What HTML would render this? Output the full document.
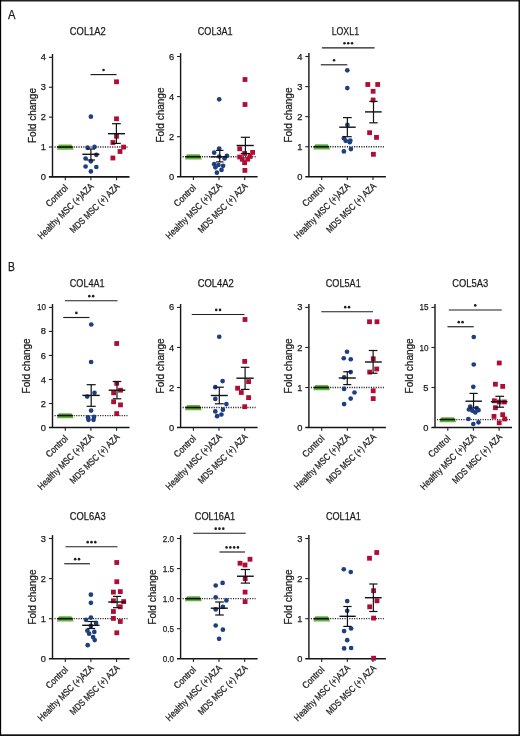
<!DOCTYPE html>
<html><head><meta charset="utf-8"><style>
html,body{margin:0;padding:0;background:#fff;}
body{width:520px;height:736px;overflow:hidden;}
svg{display:block;will-change:transform;}
text{font-family:"Liberation Sans", sans-serif;fill:#1a1a1a;stroke:#1a1a1a;stroke-width:0.25px;}
</style></head><body>
<svg width="520" height="736" viewBox="0 0 520 736">
<rect x="0" y="0" width="520" height="736" fill="#fff"/>
<rect x="0" y="0" width="520" height="1.5" fill="#222"/>
<rect x="0" y="0" width="1.15" height="736" fill="#000"/>
<rect x="518.5" y="0" width="1.5" height="736" fill="#111"/>
<rect x="0" y="734.3" width="520" height="1.7" fill="#111"/>
<text x="8.1" y="19.1" font-size="12.4" textLength="7.5" lengthAdjust="spacingAndGlyphs">A</text>
<text x="8.1" y="271.2" font-size="12.4" textLength="6.9" lengthAdjust="spacingAndGlyphs">B</text>
<text x="87.80" y="34.60" font-size="10.7" text-anchor="middle" textLength="35.86" lengthAdjust="spacingAndGlyphs">COL1A2</text>
<line x1="52.50" y1="53.95" x2="52.50" y2="176.90" stroke="#151515" stroke-width="1.4"/>
<line x1="48.90" y1="176.90" x2="129.50" y2="176.90" stroke="#151515" stroke-width="1.6"/>
<text x="46.00" y="179.95" font-size="9.3" text-anchor="end">0</text>
<line x1="48.90" y1="147.01" x2="52.50" y2="147.01" stroke="#222" stroke-width="1.1"/>
<text x="46.00" y="150.06" font-size="9.3" text-anchor="end">1</text>
<line x1="48.90" y1="117.12" x2="52.50" y2="117.12" stroke="#222" stroke-width="1.1"/>
<text x="46.00" y="120.17" font-size="9.3" text-anchor="end">2</text>
<line x1="48.90" y1="87.24" x2="52.50" y2="87.24" stroke="#222" stroke-width="1.1"/>
<text x="46.00" y="90.29" font-size="9.3" text-anchor="end">3</text>
<line x1="48.90" y1="57.35" x2="52.50" y2="57.35" stroke="#222" stroke-width="1.1"/>
<text x="46.00" y="60.40" font-size="9.3" text-anchor="end">4</text>
<line x1="65.30" y1="176.90" x2="65.30" y2="180.20" stroke="#222" stroke-width="1.1"/>
<line x1="90.90" y1="176.90" x2="90.90" y2="180.20" stroke="#222" stroke-width="1.1"/>
<line x1="116.60" y1="176.90" x2="116.60" y2="180.20" stroke="#222" stroke-width="1.1"/>
<text x="0" y="0" font-size="11" text-anchor="middle" textLength="55" lengthAdjust="spacingAndGlyphs" transform="translate(35.70,115.53) rotate(-90)">Fold change</text>
<text x="0" y="0" font-size="9.4" text-anchor="end" textLength="26.9" lengthAdjust="spacingAndGlyphs" transform="translate(68.54,188.44) rotate(-45)">Control</text>
<text x="0" y="0" font-size="9.4" text-anchor="end" textLength="74.8" lengthAdjust="spacingAndGlyphs" transform="translate(94.30,186.90) rotate(-45)">Healthy MSC (+)AZA</text>
<text x="0" y="0" font-size="9.4" text-anchor="end" textLength="65.9" lengthAdjust="spacingAndGlyphs" transform="translate(120.20,186.95) rotate(-45)">MDS MSC (+) AZA</text>
<line x1="54.50" y1="147.01" x2="127.50" y2="147.01" stroke="#222" stroke-width="1.3" stroke-dasharray="1.1 1.3"/>
<polygon points="58.80,144.61 71.50,144.61 73.70,149.71 56.90,149.71" fill="#63b33c"/>
<line x1="57.40" y1="147.01" x2="72.80" y2="147.01" stroke="#111" stroke-width="1.7"/>
<circle cx="90.90" cy="116.70" r="2.35" fill="#1d3f82"/>
<circle cx="87.60" cy="147.70" r="2.35" fill="#1d3f82"/>
<circle cx="94.50" cy="146.90" r="2.35" fill="#1d3f82"/>
<circle cx="96.30" cy="154.80" r="2.35" fill="#1d3f82"/>
<circle cx="85.60" cy="158.50" r="2.35" fill="#1d3f82"/>
<circle cx="90.90" cy="161.30" r="2.35" fill="#1d3f82"/>
<circle cx="85.60" cy="166.50" r="2.35" fill="#1d3f82"/>
<circle cx="96.30" cy="167.00" r="2.35" fill="#1d3f82"/>
<circle cx="90.90" cy="171.40" r="2.35" fill="#1d3f82"/>
<rect x="114.10" y="79.40" width="4.8" height="4.8" fill="#b00c34"/>
<rect x="114.10" y="116.40" width="4.8" height="4.8" fill="#b00c34"/>
<rect x="114.10" y="133.90" width="4.8" height="4.8" fill="#b00c34"/>
<rect x="110.50" y="140.10" width="4.8" height="4.8" fill="#b00c34"/>
<rect x="121.20" y="144.70" width="4.8" height="4.8" fill="#b00c34"/>
<rect x="117.60" y="149.10" width="4.8" height="4.8" fill="#b00c34"/>
<rect x="110.50" y="155.60" width="4.8" height="4.8" fill="#b00c34"/>
<line x1="90.90" y1="149.00" x2="90.90" y2="160.00" stroke="#111" stroke-width="1.2"/>
<line x1="86.80" y1="149.00" x2="95.00" y2="149.00" stroke="#111" stroke-width="1.2"/>
<line x1="86.80" y1="160.00" x2="95.00" y2="160.00" stroke="#111" stroke-width="1.2"/>
<line x1="82.40" y1="154.30" x2="99.40" y2="154.30" stroke="#111" stroke-width="1.4"/>
<line x1="116.40" y1="123.70" x2="116.40" y2="143.40" stroke="#111" stroke-width="1.2"/>
<line x1="112.00" y1="123.70" x2="120.80" y2="123.70" stroke="#111" stroke-width="1.2"/>
<line x1="112.00" y1="143.40" x2="120.80" y2="143.40" stroke="#111" stroke-width="1.2"/>
<line x1="108.00" y1="133.70" x2="125.00" y2="133.70" stroke="#111" stroke-width="1.4"/>
<line x1="90.50" y1="74.60" x2="116.60" y2="74.60" stroke="#1e1e1e" stroke-width="1.15"/>
<circle cx="103.55" cy="70.00" r="1.3" fill="#1e1e1e"/>
<text x="215.25" y="34.60" font-size="10.7" text-anchor="middle" textLength="34.88" lengthAdjust="spacingAndGlyphs">COL3A1</text>
<line x1="180.60" y1="53.10" x2="180.60" y2="176.80" stroke="#151515" stroke-width="1.4"/>
<line x1="177.00" y1="176.80" x2="257.60" y2="176.80" stroke="#151515" stroke-width="1.6"/>
<text x="174.10" y="179.85" font-size="9.3" text-anchor="end">0</text>
<line x1="177.00" y1="136.70" x2="180.60" y2="136.70" stroke="#222" stroke-width="1.1"/>
<text x="174.10" y="139.75" font-size="9.3" text-anchor="end">2</text>
<line x1="177.00" y1="96.60" x2="180.60" y2="96.60" stroke="#222" stroke-width="1.1"/>
<text x="174.10" y="99.65" font-size="9.3" text-anchor="end">4</text>
<line x1="177.00" y1="56.50" x2="180.60" y2="56.50" stroke="#222" stroke-width="1.1"/>
<text x="174.10" y="59.55" font-size="9.3" text-anchor="end">6</text>
<line x1="193.40" y1="176.80" x2="193.40" y2="180.10" stroke="#222" stroke-width="1.1"/>
<line x1="219.00" y1="176.80" x2="219.00" y2="180.10" stroke="#222" stroke-width="1.1"/>
<line x1="244.70" y1="176.80" x2="244.70" y2="180.10" stroke="#222" stroke-width="1.1"/>
<text x="0" y="0" font-size="11" text-anchor="middle" textLength="55" lengthAdjust="spacingAndGlyphs" transform="translate(163.80,115.05) rotate(-90)">Fold change</text>
<text x="0" y="0" font-size="9.4" text-anchor="end" textLength="26.9" lengthAdjust="spacingAndGlyphs" transform="translate(196.64,188.34) rotate(-45)">Control</text>
<text x="0" y="0" font-size="9.4" text-anchor="end" textLength="74.8" lengthAdjust="spacingAndGlyphs" transform="translate(222.40,186.80) rotate(-45)">Healthy MSC (+)AZA</text>
<text x="0" y="0" font-size="9.4" text-anchor="end" textLength="65.9" lengthAdjust="spacingAndGlyphs" transform="translate(248.30,186.85) rotate(-45)">MDS MSC (+) AZA</text>
<line x1="182.60" y1="156.75" x2="255.60" y2="156.75" stroke="#222" stroke-width="1.3" stroke-dasharray="1.1 1.3"/>
<polygon points="186.90,154.35 199.60,154.35 201.80,159.45 185.00,159.45" fill="#63b33c"/>
<line x1="185.50" y1="156.75" x2="200.90" y2="156.75" stroke="#111" stroke-width="1.7"/>
<circle cx="219.20" cy="99.30" r="2.35" fill="#1d3f82"/>
<circle cx="219.20" cy="148.50" r="2.35" fill="#1d3f82"/>
<circle cx="214.20" cy="152.70" r="2.35" fill="#1d3f82"/>
<circle cx="226.90" cy="155.80" r="2.35" fill="#1d3f82"/>
<circle cx="224.60" cy="158.50" r="2.35" fill="#1d3f82"/>
<circle cx="219.20" cy="156.50" r="2.35" fill="#1d3f82"/>
<circle cx="214.20" cy="164.20" r="2.35" fill="#1d3f82"/>
<circle cx="218.50" cy="165.00" r="2.35" fill="#1d3f82"/>
<circle cx="223.10" cy="165.80" r="2.35" fill="#1d3f82"/>
<circle cx="215.40" cy="167.30" r="2.35" fill="#1d3f82"/>
<circle cx="221.50" cy="169.90" r="2.35" fill="#1d3f82"/>
<circle cx="216.90" cy="172.70" r="2.35" fill="#1d3f82"/>
<rect x="242.60" y="77.10" width="4.8" height="4.8" fill="#b00c34"/>
<rect x="242.60" y="102.10" width="4.8" height="4.8" fill="#b00c34"/>
<rect x="237.30" y="146.40" width="4.8" height="4.8" fill="#b00c34"/>
<rect x="250.20" y="150.00" width="4.8" height="4.8" fill="#b00c34"/>
<rect x="242.20" y="151.10" width="4.8" height="4.8" fill="#b00c34"/>
<rect x="237.30" y="154.60" width="4.8" height="4.8" fill="#b00c34"/>
<rect x="247.60" y="154.10" width="4.8" height="4.8" fill="#b00c34"/>
<rect x="239.90" y="156.80" width="4.8" height="4.8" fill="#b00c34"/>
<rect x="245.30" y="156.80" width="4.8" height="4.8" fill="#b00c34"/>
<rect x="242.20" y="160.30" width="4.8" height="4.8" fill="#b00c34"/>
<rect x="242.50" y="168.00" width="4.8" height="4.8" fill="#b00c34"/>
<line x1="219.75" y1="150.40" x2="219.75" y2="161.90" stroke="#111" stroke-width="1.2"/>
<line x1="216.00" y1="150.40" x2="223.50" y2="150.40" stroke="#111" stroke-width="1.2"/>
<line x1="216.00" y1="161.90" x2="223.50" y2="161.90" stroke="#111" stroke-width="1.2"/>
<line x1="210.50" y1="156.80" x2="227.00" y2="156.80" stroke="#111" stroke-width="1.4"/>
<line x1="245.40" y1="137.30" x2="245.40" y2="153.50" stroke="#111" stroke-width="1.2"/>
<line x1="240.80" y1="137.30" x2="250.00" y2="137.30" stroke="#111" stroke-width="1.2"/>
<line x1="240.80" y1="153.50" x2="250.00" y2="153.50" stroke="#111" stroke-width="1.2"/>
<line x1="236.60" y1="145.50" x2="253.80" y2="145.50" stroke="#111" stroke-width="1.4"/>
<text x="345.33" y="34.60" font-size="10.7" text-anchor="middle" textLength="27.4" lengthAdjust="spacingAndGlyphs">LOXL1</text>
<line x1="308.90" y1="53.10" x2="308.90" y2="176.80" stroke="#151515" stroke-width="1.4"/>
<line x1="305.30" y1="176.80" x2="385.90" y2="176.80" stroke="#151515" stroke-width="1.6"/>
<text x="302.40" y="179.85" font-size="9.3" text-anchor="end">0</text>
<line x1="305.30" y1="146.73" x2="308.90" y2="146.73" stroke="#222" stroke-width="1.1"/>
<text x="302.40" y="149.78" font-size="9.3" text-anchor="end">1</text>
<line x1="305.30" y1="116.65" x2="308.90" y2="116.65" stroke="#222" stroke-width="1.1"/>
<text x="302.40" y="119.70" font-size="9.3" text-anchor="end">2</text>
<line x1="305.30" y1="86.58" x2="308.90" y2="86.58" stroke="#222" stroke-width="1.1"/>
<text x="302.40" y="89.62" font-size="9.3" text-anchor="end">3</text>
<line x1="305.30" y1="56.50" x2="308.90" y2="56.50" stroke="#222" stroke-width="1.1"/>
<text x="302.40" y="59.55" font-size="9.3" text-anchor="end">4</text>
<line x1="321.70" y1="176.80" x2="321.70" y2="180.10" stroke="#222" stroke-width="1.1"/>
<line x1="347.30" y1="176.80" x2="347.30" y2="180.10" stroke="#222" stroke-width="1.1"/>
<line x1="373.00" y1="176.80" x2="373.00" y2="180.10" stroke="#222" stroke-width="1.1"/>
<text x="0" y="0" font-size="11" text-anchor="middle" textLength="55" lengthAdjust="spacingAndGlyphs" transform="translate(292.10,115.05) rotate(-90)">Fold change</text>
<text x="0" y="0" font-size="9.4" text-anchor="end" textLength="26.9" lengthAdjust="spacingAndGlyphs" transform="translate(324.94,188.34) rotate(-45)">Control</text>
<text x="0" y="0" font-size="9.4" text-anchor="end" textLength="74.8" lengthAdjust="spacingAndGlyphs" transform="translate(350.70,186.80) rotate(-45)">Healthy MSC (+)AZA</text>
<text x="0" y="0" font-size="9.4" text-anchor="end" textLength="65.9" lengthAdjust="spacingAndGlyphs" transform="translate(376.60,186.85) rotate(-45)">MDS MSC (+) AZA</text>
<line x1="310.90" y1="146.73" x2="383.90" y2="146.73" stroke="#222" stroke-width="1.3" stroke-dasharray="1.1 1.3"/>
<polygon points="315.20,144.33 327.90,144.33 330.10,149.43 313.30,149.43" fill="#63b33c"/>
<line x1="313.80" y1="146.73" x2="329.20" y2="146.73" stroke="#111" stroke-width="1.7"/>
<circle cx="347.30" cy="70.30" r="2.35" fill="#1d3f82"/>
<circle cx="347.30" cy="88.10" r="2.35" fill="#1d3f82"/>
<circle cx="347.40" cy="124.90" r="2.35" fill="#1d3f82"/>
<circle cx="343.90" cy="138.20" r="2.35" fill="#1d3f82"/>
<circle cx="345.70" cy="140.80" r="2.35" fill="#1d3f82"/>
<circle cx="350.30" cy="140.50" r="2.35" fill="#1d3f82"/>
<circle cx="349.70" cy="142.20" r="2.35" fill="#1d3f82"/>
<circle cx="343.90" cy="151.40" r="2.35" fill="#1d3f82"/>
<circle cx="350.90" cy="149.10" r="2.35" fill="#1d3f82"/>
<rect x="365.40" y="82.10" width="4.8" height="4.8" fill="#b00c34"/>
<rect x="375.30" y="82.10" width="4.8" height="4.8" fill="#b00c34"/>
<rect x="370.70" y="88.90" width="4.8" height="4.8" fill="#b00c34"/>
<rect x="370.70" y="97.60" width="4.8" height="4.8" fill="#b00c34"/>
<rect x="367.20" y="130.30" width="4.8" height="4.8" fill="#b00c34"/>
<rect x="374.10" y="135.00" width="4.8" height="4.8" fill="#b00c34"/>
<rect x="371.00" y="151.90" width="4.8" height="4.8" fill="#b00c34"/>
<line x1="347.35" y1="117.60" x2="347.35" y2="136.70" stroke="#111" stroke-width="1.2"/>
<line x1="343.00" y1="117.60" x2="351.70" y2="117.60" stroke="#111" stroke-width="1.2"/>
<line x1="343.00" y1="136.70" x2="351.70" y2="136.70" stroke="#111" stroke-width="1.2"/>
<line x1="339.30" y1="127.20" x2="355.70" y2="127.20" stroke="#111" stroke-width="1.4"/>
<line x1="373.50" y1="101.40" x2="373.50" y2="122.80" stroke="#111" stroke-width="1.2"/>
<line x1="369.30" y1="101.40" x2="377.70" y2="101.40" stroke="#111" stroke-width="1.2"/>
<line x1="369.30" y1="122.80" x2="377.70" y2="122.80" stroke="#111" stroke-width="1.2"/>
<line x1="365.00" y1="111.90" x2="381.70" y2="111.90" stroke="#111" stroke-width="1.4"/>
<line x1="321.90" y1="47.90" x2="374.60" y2="47.90" stroke="#1e1e1e" stroke-width="1.15"/>
<circle cx="344.45" cy="43.30" r="1.3" fill="#1e1e1e"/>
<circle cx="348.25" cy="43.30" r="1.3" fill="#1e1e1e"/>
<circle cx="352.05" cy="43.30" r="1.3" fill="#1e1e1e"/>
<line x1="320.80" y1="64.80" x2="347.30" y2="64.80" stroke="#1e1e1e" stroke-width="1.15"/>
<circle cx="334.05" cy="60.20" r="1.3" fill="#1e1e1e"/>
<text x="87.22" y="286.80" font-size="10.7" text-anchor="middle" textLength="34.79" lengthAdjust="spacingAndGlyphs">COL4A1</text>
<line x1="52.50" y1="304.00" x2="52.50" y2="427.55" stroke="#151515" stroke-width="1.4"/>
<line x1="48.90" y1="427.55" x2="129.50" y2="427.55" stroke="#151515" stroke-width="1.6"/>
<text x="46.00" y="430.60" font-size="9.3" text-anchor="end">0</text>
<line x1="48.90" y1="403.52" x2="52.50" y2="403.52" stroke="#222" stroke-width="1.1"/>
<text x="46.00" y="406.57" font-size="9.3" text-anchor="end">2</text>
<line x1="48.90" y1="379.49" x2="52.50" y2="379.49" stroke="#222" stroke-width="1.1"/>
<text x="46.00" y="382.54" font-size="9.3" text-anchor="end">4</text>
<line x1="48.90" y1="355.46" x2="52.50" y2="355.46" stroke="#222" stroke-width="1.1"/>
<text x="46.00" y="358.51" font-size="9.3" text-anchor="end">6</text>
<line x1="48.90" y1="331.43" x2="52.50" y2="331.43" stroke="#222" stroke-width="1.1"/>
<text x="46.00" y="334.48" font-size="9.3" text-anchor="end">8</text>
<line x1="48.90" y1="307.40" x2="52.50" y2="307.40" stroke="#222" stroke-width="1.1"/>
<text x="46.00" y="310.45" font-size="9.3" text-anchor="end" textLength="9.0" lengthAdjust="spacingAndGlyphs">10</text>
<line x1="65.30" y1="427.55" x2="65.30" y2="430.85" stroke="#222" stroke-width="1.1"/>
<line x1="90.90" y1="427.55" x2="90.90" y2="430.85" stroke="#222" stroke-width="1.1"/>
<line x1="116.60" y1="427.55" x2="116.60" y2="430.85" stroke="#222" stroke-width="1.1"/>
<text x="0" y="0" font-size="11" text-anchor="middle" textLength="55" lengthAdjust="spacingAndGlyphs" transform="translate(30.20,365.88) rotate(-90)">Fold change</text>
<text x="0" y="0" font-size="9.4" text-anchor="end" textLength="26.9" lengthAdjust="spacingAndGlyphs" transform="translate(68.54,439.09) rotate(-45)">Control</text>
<text x="0" y="0" font-size="9.4" text-anchor="end" textLength="74.8" lengthAdjust="spacingAndGlyphs" transform="translate(94.30,437.55) rotate(-45)">Healthy MSC (+)AZA</text>
<text x="0" y="0" font-size="9.4" text-anchor="end" textLength="65.9" lengthAdjust="spacingAndGlyphs" transform="translate(120.20,437.60) rotate(-45)">MDS MSC (+) AZA</text>
<line x1="54.50" y1="415.54" x2="127.50" y2="415.54" stroke="#222" stroke-width="1.3" stroke-dasharray="1.1 1.3"/>
<polygon points="58.80,413.14 71.50,413.14 73.70,418.24 56.90,418.24" fill="#63b33c"/>
<line x1="57.40" y1="415.54" x2="72.80" y2="415.54" stroke="#111" stroke-width="1.7"/>
<circle cx="91.25" cy="324.50" r="2.35" fill="#1d3f82"/>
<circle cx="91.10" cy="362.00" r="2.35" fill="#1d3f82"/>
<circle cx="94.50" cy="392.80" r="2.35" fill="#1d3f82"/>
<circle cx="87.20" cy="396.60" r="2.35" fill="#1d3f82"/>
<circle cx="91.10" cy="410.60" r="2.35" fill="#1d3f82"/>
<circle cx="88.00" cy="417.30" r="2.35" fill="#1d3f82"/>
<circle cx="88.50" cy="419.80" r="2.35" fill="#1d3f82"/>
<circle cx="94.00" cy="416.90" r="2.35" fill="#1d3f82"/>
<circle cx="93.50" cy="419.80" r="2.35" fill="#1d3f82"/>
<rect x="114.30" y="341.10" width="4.8" height="4.8" fill="#b00c34"/>
<rect x="114.30" y="380.90" width="4.8" height="4.8" fill="#b00c34"/>
<rect x="111.20" y="390.40" width="4.8" height="4.8" fill="#b00c34"/>
<rect x="118.10" y="387.80" width="4.8" height="4.8" fill="#b00c34"/>
<rect x="111.20" y="399.40" width="4.8" height="4.8" fill="#b00c34"/>
<rect x="118.10" y="402.50" width="4.8" height="4.8" fill="#b00c34"/>
<rect x="114.30" y="411.20" width="4.8" height="4.8" fill="#b00c34"/>
<line x1="91.20" y1="384.70" x2="91.20" y2="406.30" stroke="#111" stroke-width="1.2"/>
<line x1="86.70" y1="384.70" x2="95.70" y2="384.70" stroke="#111" stroke-width="1.2"/>
<line x1="86.70" y1="406.30" x2="95.70" y2="406.30" stroke="#111" stroke-width="1.2"/>
<line x1="82.40" y1="395.40" x2="99.70" y2="395.40" stroke="#111" stroke-width="1.4"/>
<line x1="117.00" y1="381.50" x2="117.00" y2="398.80" stroke="#111" stroke-width="1.2"/>
<line x1="112.70" y1="381.50" x2="121.30" y2="381.50" stroke="#111" stroke-width="1.2"/>
<line x1="112.70" y1="398.80" x2="121.30" y2="398.80" stroke="#111" stroke-width="1.2"/>
<line x1="108.70" y1="390.20" x2="125.30" y2="390.20" stroke="#111" stroke-width="1.4"/>
<line x1="65.00" y1="300.75" x2="117.50" y2="300.75" stroke="#1e1e1e" stroke-width="1.15"/>
<circle cx="89.35" cy="296.15" r="1.3" fill="#1e1e1e"/>
<circle cx="93.15" cy="296.15" r="1.3" fill="#1e1e1e"/>
<line x1="63.25" y1="317.50" x2="89.50" y2="317.50" stroke="#1e1e1e" stroke-width="1.15"/>
<circle cx="76.38" cy="312.90" r="1.3" fill="#1e1e1e"/>
<text x="215.70" y="286.80" font-size="10.7" text-anchor="middle" textLength="36.11" lengthAdjust="spacingAndGlyphs">COL4A2</text>
<line x1="180.60" y1="304.00" x2="180.60" y2="427.55" stroke="#151515" stroke-width="1.4"/>
<line x1="177.00" y1="427.55" x2="257.60" y2="427.55" stroke="#151515" stroke-width="1.6"/>
<text x="174.10" y="430.60" font-size="9.3" text-anchor="end">0</text>
<line x1="177.00" y1="387.50" x2="180.60" y2="387.50" stroke="#222" stroke-width="1.1"/>
<text x="174.10" y="390.55" font-size="9.3" text-anchor="end">2</text>
<line x1="177.00" y1="347.45" x2="180.60" y2="347.45" stroke="#222" stroke-width="1.1"/>
<text x="174.10" y="350.50" font-size="9.3" text-anchor="end">4</text>
<line x1="177.00" y1="307.40" x2="180.60" y2="307.40" stroke="#222" stroke-width="1.1"/>
<text x="174.10" y="310.45" font-size="9.3" text-anchor="end">6</text>
<line x1="193.40" y1="427.55" x2="193.40" y2="430.85" stroke="#222" stroke-width="1.1"/>
<line x1="219.00" y1="427.55" x2="219.00" y2="430.85" stroke="#222" stroke-width="1.1"/>
<line x1="244.70" y1="427.55" x2="244.70" y2="430.85" stroke="#222" stroke-width="1.1"/>
<text x="0" y="0" font-size="11" text-anchor="middle" textLength="55" lengthAdjust="spacingAndGlyphs" transform="translate(163.80,365.88) rotate(-90)">Fold change</text>
<text x="0" y="0" font-size="9.4" text-anchor="end" textLength="26.9" lengthAdjust="spacingAndGlyphs" transform="translate(196.64,439.09) rotate(-45)">Control</text>
<text x="0" y="0" font-size="9.4" text-anchor="end" textLength="74.8" lengthAdjust="spacingAndGlyphs" transform="translate(222.40,437.55) rotate(-45)">Healthy MSC (+)AZA</text>
<text x="0" y="0" font-size="9.4" text-anchor="end" textLength="65.9" lengthAdjust="spacingAndGlyphs" transform="translate(248.30,437.60) rotate(-45)">MDS MSC (+) AZA</text>
<line x1="182.60" y1="407.52" x2="255.60" y2="407.52" stroke="#222" stroke-width="1.3" stroke-dasharray="1.1 1.3"/>
<polygon points="186.90,405.12 199.60,405.12 201.80,410.22 185.00,410.22" fill="#63b33c"/>
<line x1="185.50" y1="407.52" x2="200.90" y2="407.52" stroke="#111" stroke-width="1.7"/>
<circle cx="219.25" cy="336.75" r="2.35" fill="#1d3f82"/>
<circle cx="222.60" cy="381.10" r="2.35" fill="#1d3f82"/>
<circle cx="215.30" cy="387.20" r="2.35" fill="#1d3f82"/>
<circle cx="215.30" cy="398.90" r="2.35" fill="#1d3f82"/>
<circle cx="226.40" cy="404.10" r="2.35" fill="#1d3f82"/>
<circle cx="222.90" cy="409.70" r="2.35" fill="#1d3f82"/>
<circle cx="215.30" cy="411.40" r="2.35" fill="#1d3f82"/>
<circle cx="221.40" cy="414.50" r="2.35" fill="#1d3f82"/>
<circle cx="217.10" cy="416.20" r="2.35" fill="#1d3f82"/>
<rect x="242.60" y="317.10" width="4.8" height="4.8" fill="#b00c34"/>
<rect x="242.30" y="359.00" width="4.8" height="4.8" fill="#b00c34"/>
<rect x="246.20" y="379.20" width="4.8" height="4.8" fill="#b00c34"/>
<rect x="235.20" y="385.80" width="4.8" height="4.8" fill="#b00c34"/>
<rect x="238.90" y="390.10" width="4.8" height="4.8" fill="#b00c34"/>
<rect x="246.20" y="395.20" width="4.8" height="4.8" fill="#b00c34"/>
<rect x="242.30" y="404.30" width="4.8" height="4.8" fill="#b00c34"/>
<line x1="219.30" y1="387.20" x2="219.30" y2="403.80" stroke="#111" stroke-width="1.2"/>
<line x1="214.80" y1="387.20" x2="223.80" y2="387.20" stroke="#111" stroke-width="1.2"/>
<line x1="214.80" y1="403.80" x2="223.80" y2="403.80" stroke="#111" stroke-width="1.2"/>
<line x1="210.80" y1="395.50" x2="227.80" y2="395.50" stroke="#111" stroke-width="1.4"/>
<line x1="245.10" y1="367.30" x2="245.10" y2="389.40" stroke="#111" stroke-width="1.2"/>
<line x1="240.80" y1="367.30" x2="249.40" y2="367.30" stroke="#111" stroke-width="1.2"/>
<line x1="240.80" y1="389.40" x2="249.40" y2="389.40" stroke="#111" stroke-width="1.2"/>
<line x1="236.40" y1="378.20" x2="253.70" y2="378.20" stroke="#111" stroke-width="1.4"/>
<line x1="191.75" y1="314.50" x2="244.50" y2="314.50" stroke="#1e1e1e" stroke-width="1.15"/>
<circle cx="216.22" cy="309.90" r="1.3" fill="#1e1e1e"/>
<circle cx="220.03" cy="309.90" r="1.3" fill="#1e1e1e"/>
<text x="343.26" y="286.80" font-size="10.7" text-anchor="middle" textLength="34.91" lengthAdjust="spacingAndGlyphs">COL5A1</text>
<line x1="308.90" y1="304.00" x2="308.90" y2="427.55" stroke="#151515" stroke-width="1.4"/>
<line x1="305.30" y1="427.55" x2="385.90" y2="427.55" stroke="#151515" stroke-width="1.6"/>
<text x="302.40" y="430.60" font-size="9.3" text-anchor="end">0</text>
<line x1="305.30" y1="387.50" x2="308.90" y2="387.50" stroke="#222" stroke-width="1.1"/>
<text x="302.40" y="390.55" font-size="9.3" text-anchor="end">1</text>
<line x1="305.30" y1="347.45" x2="308.90" y2="347.45" stroke="#222" stroke-width="1.1"/>
<text x="302.40" y="350.50" font-size="9.3" text-anchor="end">2</text>
<line x1="305.30" y1="307.40" x2="308.90" y2="307.40" stroke="#222" stroke-width="1.1"/>
<text x="302.40" y="310.45" font-size="9.3" text-anchor="end">3</text>
<line x1="321.70" y1="427.55" x2="321.70" y2="430.85" stroke="#222" stroke-width="1.1"/>
<line x1="347.30" y1="427.55" x2="347.30" y2="430.85" stroke="#222" stroke-width="1.1"/>
<line x1="373.00" y1="427.55" x2="373.00" y2="430.85" stroke="#222" stroke-width="1.1"/>
<text x="0" y="0" font-size="11" text-anchor="middle" textLength="55" lengthAdjust="spacingAndGlyphs" transform="translate(292.10,365.88) rotate(-90)">Fold change</text>
<text x="0" y="0" font-size="9.4" text-anchor="end" textLength="26.9" lengthAdjust="spacingAndGlyphs" transform="translate(324.94,439.09) rotate(-45)">Control</text>
<text x="0" y="0" font-size="9.4" text-anchor="end" textLength="74.8" lengthAdjust="spacingAndGlyphs" transform="translate(350.70,437.55) rotate(-45)">Healthy MSC (+)AZA</text>
<text x="0" y="0" font-size="9.4" text-anchor="end" textLength="65.9" lengthAdjust="spacingAndGlyphs" transform="translate(376.60,437.60) rotate(-45)">MDS MSC (+) AZA</text>
<line x1="310.90" y1="387.50" x2="383.90" y2="387.50" stroke="#222" stroke-width="1.3" stroke-dasharray="1.1 1.3"/>
<polygon points="315.20,385.10 327.90,385.10 330.10,390.20 313.30,390.20" fill="#63b33c"/>
<line x1="313.80" y1="387.50" x2="329.20" y2="387.50" stroke="#111" stroke-width="1.7"/>
<circle cx="347.00" cy="351.75" r="2.35" fill="#1d3f82"/>
<circle cx="343.75" cy="358.25" r="2.35" fill="#1d3f82"/>
<circle cx="350.75" cy="359.25" r="2.35" fill="#1d3f82"/>
<circle cx="350.70" cy="372.10" r="2.35" fill="#1d3f82"/>
<circle cx="344.10" cy="377.30" r="2.35" fill="#1d3f82"/>
<circle cx="344.10" cy="388.90" r="2.35" fill="#1d3f82"/>
<circle cx="354.50" cy="392.50" r="2.35" fill="#1d3f82"/>
<circle cx="350.70" cy="398.60" r="2.35" fill="#1d3f82"/>
<circle cx="344.10" cy="404.10" r="2.35" fill="#1d3f82"/>
<rect x="367.10" y="319.35" width="4.8" height="4.8" fill="#b00c34"/>
<rect x="374.60" y="319.35" width="4.8" height="4.8" fill="#b00c34"/>
<rect x="370.85" y="356.35" width="4.8" height="4.8" fill="#b00c34"/>
<rect x="374.30" y="366.60" width="4.8" height="4.8" fill="#b00c34"/>
<rect x="367.30" y="369.70" width="4.8" height="4.8" fill="#b00c34"/>
<rect x="370.80" y="388.40" width="4.8" height="4.8" fill="#b00c34"/>
<rect x="370.80" y="396.20" width="4.8" height="4.8" fill="#b00c34"/>
<line x1="347.25" y1="371.75" x2="347.25" y2="384.60" stroke="#111" stroke-width="1.2"/>
<line x1="343.25" y1="371.75" x2="351.25" y2="371.75" stroke="#111" stroke-width="1.2"/>
<line x1="343.25" y1="384.60" x2="351.25" y2="384.60" stroke="#111" stroke-width="1.2"/>
<line x1="338.75" y1="378.00" x2="355.75" y2="378.00" stroke="#111" stroke-width="1.4"/>
<line x1="373.12" y1="350.50" x2="373.12" y2="373.25" stroke="#111" stroke-width="1.2"/>
<line x1="368.75" y1="350.50" x2="377.50" y2="350.50" stroke="#111" stroke-width="1.2"/>
<line x1="368.75" y1="373.25" x2="377.50" y2="373.25" stroke="#111" stroke-width="1.2"/>
<line x1="365.00" y1="362.00" x2="381.75" y2="362.00" stroke="#111" stroke-width="1.4"/>
<line x1="321.25" y1="311.75" x2="373.00" y2="311.75" stroke="#1e1e1e" stroke-width="1.15"/>
<circle cx="345.23" cy="307.15" r="1.3" fill="#1e1e1e"/>
<circle cx="349.02" cy="307.15" r="1.3" fill="#1e1e1e"/>
<text x="470.29" y="286.80" font-size="10.7" text-anchor="middle" textLength="35.92" lengthAdjust="spacingAndGlyphs">COL5A3</text>
<line x1="435.00" y1="304.00" x2="435.00" y2="427.55" stroke="#151515" stroke-width="1.4"/>
<line x1="431.40" y1="427.55" x2="512.00" y2="427.55" stroke="#151515" stroke-width="1.6"/>
<text x="428.50" y="430.60" font-size="9.3" text-anchor="end">0</text>
<line x1="431.40" y1="387.50" x2="435.00" y2="387.50" stroke="#222" stroke-width="1.1"/>
<text x="428.50" y="390.55" font-size="9.3" text-anchor="end">5</text>
<line x1="431.40" y1="347.45" x2="435.00" y2="347.45" stroke="#222" stroke-width="1.1"/>
<text x="428.50" y="350.50" font-size="9.3" text-anchor="end" textLength="9.0" lengthAdjust="spacingAndGlyphs">10</text>
<line x1="431.40" y1="307.40" x2="435.00" y2="307.40" stroke="#222" stroke-width="1.1"/>
<text x="428.50" y="310.45" font-size="9.3" text-anchor="end" textLength="9.0" lengthAdjust="spacingAndGlyphs">15</text>
<line x1="447.80" y1="427.55" x2="447.80" y2="430.85" stroke="#222" stroke-width="1.1"/>
<line x1="473.40" y1="427.55" x2="473.40" y2="430.85" stroke="#222" stroke-width="1.1"/>
<line x1="499.10" y1="427.55" x2="499.10" y2="430.85" stroke="#222" stroke-width="1.1"/>
<text x="0" y="0" font-size="11" text-anchor="middle" textLength="55" lengthAdjust="spacingAndGlyphs" transform="translate(412.70,365.88) rotate(-90)">Fold change</text>
<text x="0" y="0" font-size="9.4" text-anchor="end" textLength="26.9" lengthAdjust="spacingAndGlyphs" transform="translate(451.04,439.09) rotate(-45)">Control</text>
<text x="0" y="0" font-size="9.4" text-anchor="end" textLength="74.8" lengthAdjust="spacingAndGlyphs" transform="translate(476.80,437.55) rotate(-45)">Healthy MSC (+)AZA</text>
<text x="0" y="0" font-size="9.4" text-anchor="end" textLength="65.9" lengthAdjust="spacingAndGlyphs" transform="translate(502.70,437.60) rotate(-45)">MDS MSC (+) AZA</text>
<line x1="437.00" y1="419.54" x2="510.00" y2="419.54" stroke="#222" stroke-width="1.3" stroke-dasharray="1.1 1.3"/>
<polygon points="441.30,417.14 454.00,417.14 456.20,422.24 439.40,422.24" fill="#63b33c"/>
<line x1="439.90" y1="419.54" x2="455.30" y2="419.54" stroke="#111" stroke-width="1.7"/>
<circle cx="473.75" cy="337.00" r="2.35" fill="#1d3f82"/>
<circle cx="473.75" cy="364.50" r="2.35" fill="#1d3f82"/>
<circle cx="473.30" cy="386.80" r="2.35" fill="#1d3f82"/>
<circle cx="470.20" cy="406.70" r="2.35" fill="#1d3f82"/>
<circle cx="468.90" cy="409.50" r="2.35" fill="#1d3f82"/>
<circle cx="472.40" cy="410.70" r="2.35" fill="#1d3f82"/>
<circle cx="475.30" cy="412.40" r="2.35" fill="#1d3f82"/>
<circle cx="478.50" cy="410.20" r="2.35" fill="#1d3f82"/>
<circle cx="476.70" cy="408.10" r="2.35" fill="#1d3f82"/>
<circle cx="468.40" cy="419.00" r="2.35" fill="#1d3f82"/>
<circle cx="478.50" cy="422.30" r="2.35" fill="#1d3f82"/>
<circle cx="473.30" cy="424.00" r="2.35" fill="#1d3f82"/>
<rect x="496.85" y="360.60" width="4.8" height="4.8" fill="#b00c34"/>
<rect x="493.00" y="381.80" width="4.8" height="4.8" fill="#b00c34"/>
<rect x="500.30" y="384.00" width="4.8" height="4.8" fill="#b00c34"/>
<rect x="492.00" y="398.40" width="4.8" height="4.8" fill="#b00c34"/>
<rect x="502.00" y="399.60" width="4.8" height="4.8" fill="#b00c34"/>
<rect x="496.80" y="399.60" width="4.8" height="4.8" fill="#b00c34"/>
<rect x="493.00" y="405.30" width="4.8" height="4.8" fill="#b00c34"/>
<rect x="500.30" y="412.30" width="4.8" height="4.8" fill="#b00c34"/>
<rect x="491.60" y="414.00" width="4.8" height="4.8" fill="#b00c34"/>
<rect x="502.40" y="416.60" width="4.8" height="4.8" fill="#b00c34"/>
<rect x="496.80" y="420.40" width="4.8" height="4.8" fill="#b00c34"/>
<line x1="473.55" y1="393.40" x2="473.55" y2="408.00" stroke="#111" stroke-width="1.2"/>
<line x1="469.50" y1="393.40" x2="477.60" y2="393.40" stroke="#111" stroke-width="1.2"/>
<line x1="469.50" y1="408.00" x2="477.60" y2="408.00" stroke="#111" stroke-width="1.2"/>
<line x1="465.50" y1="401.20" x2="481.90" y2="401.20" stroke="#111" stroke-width="1.4"/>
<line x1="499.75" y1="396.30" x2="499.75" y2="407.20" stroke="#111" stroke-width="1.2"/>
<line x1="495.40" y1="396.30" x2="504.10" y2="396.30" stroke="#111" stroke-width="1.2"/>
<line x1="495.40" y1="407.20" x2="504.10" y2="407.20" stroke="#111" stroke-width="1.2"/>
<line x1="490.90" y1="401.70" x2="507.50" y2="401.70" stroke="#111" stroke-width="1.4"/>
<line x1="448.75" y1="310.00" x2="501.75" y2="310.00" stroke="#1e1e1e" stroke-width="1.15"/>
<circle cx="475.25" cy="305.40" r="1.3" fill="#1e1e1e"/>
<line x1="447.50" y1="326.75" x2="473.75" y2="326.75" stroke="#1e1e1e" stroke-width="1.15"/>
<circle cx="458.73" cy="322.15" r="1.3" fill="#1e1e1e"/>
<circle cx="462.52" cy="322.15" r="1.3" fill="#1e1e1e"/>
<text x="87.68" y="519.80" font-size="10.7" text-anchor="middle" textLength="35.81" lengthAdjust="spacingAndGlyphs">COL6A3</text>
<line x1="52.50" y1="535.10" x2="52.50" y2="658.80" stroke="#151515" stroke-width="1.4"/>
<line x1="48.90" y1="658.80" x2="129.50" y2="658.80" stroke="#151515" stroke-width="1.6"/>
<text x="46.00" y="661.85" font-size="9.3" text-anchor="end">0</text>
<line x1="48.90" y1="618.70" x2="52.50" y2="618.70" stroke="#222" stroke-width="1.1"/>
<text x="46.00" y="621.75" font-size="9.3" text-anchor="end">1</text>
<line x1="48.90" y1="578.60" x2="52.50" y2="578.60" stroke="#222" stroke-width="1.1"/>
<text x="46.00" y="581.65" font-size="9.3" text-anchor="end">2</text>
<line x1="48.90" y1="538.50" x2="52.50" y2="538.50" stroke="#222" stroke-width="1.1"/>
<text x="46.00" y="541.55" font-size="9.3" text-anchor="end">3</text>
<line x1="65.30" y1="658.80" x2="65.30" y2="662.10" stroke="#222" stroke-width="1.1"/>
<line x1="90.90" y1="658.80" x2="90.90" y2="662.10" stroke="#222" stroke-width="1.1"/>
<line x1="116.60" y1="658.80" x2="116.60" y2="662.10" stroke="#222" stroke-width="1.1"/>
<text x="0" y="0" font-size="11" text-anchor="middle" textLength="55" lengthAdjust="spacingAndGlyphs" transform="translate(35.70,597.05) rotate(-90)">Fold change</text>
<text x="0" y="0" font-size="9.4" text-anchor="end" textLength="26.9" lengthAdjust="spacingAndGlyphs" transform="translate(68.54,670.34) rotate(-45)">Control</text>
<text x="0" y="0" font-size="9.4" text-anchor="end" textLength="74.8" lengthAdjust="spacingAndGlyphs" transform="translate(94.30,668.80) rotate(-45)">Healthy MSC (+)AZA</text>
<text x="0" y="0" font-size="9.4" text-anchor="end" textLength="65.9" lengthAdjust="spacingAndGlyphs" transform="translate(120.20,668.85) rotate(-45)">MDS MSC (+) AZA</text>
<line x1="54.50" y1="618.70" x2="127.50" y2="618.70" stroke="#222" stroke-width="1.3" stroke-dasharray="1.1 1.3"/>
<polygon points="58.80,616.30 71.50,616.30 73.70,621.40 56.90,621.40" fill="#63b33c"/>
<line x1="57.40" y1="618.70" x2="72.80" y2="618.70" stroke="#111" stroke-width="1.7"/>
<circle cx="90.90" cy="594.70" r="2.35" fill="#1d3f82"/>
<circle cx="90.90" cy="602.80" r="2.35" fill="#1d3f82"/>
<circle cx="90.90" cy="617.60" r="2.35" fill="#1d3f82"/>
<circle cx="86.00" cy="619.80" r="2.35" fill="#1d3f82"/>
<circle cx="96.10" cy="622.90" r="2.35" fill="#1d3f82"/>
<circle cx="90.90" cy="625.90" r="2.35" fill="#1d3f82"/>
<circle cx="87.40" cy="630.70" r="2.35" fill="#1d3f82"/>
<circle cx="94.30" cy="631.90" r="2.35" fill="#1d3f82"/>
<circle cx="89.10" cy="633.70" r="2.35" fill="#1d3f82"/>
<circle cx="93.10" cy="637.10" r="2.35" fill="#1d3f82"/>
<circle cx="94.70" cy="640.10" r="2.35" fill="#1d3f82"/>
<circle cx="87.70" cy="645.20" r="2.35" fill="#1d3f82"/>
<rect x="114.35" y="560.10" width="4.8" height="4.8" fill="#b00c34"/>
<rect x="114.40" y="579.30" width="4.8" height="4.8" fill="#b00c34"/>
<rect x="111.00" y="589.70" width="4.8" height="4.8" fill="#b00c34"/>
<rect x="117.90" y="589.20" width="4.8" height="4.8" fill="#b00c34"/>
<rect x="111.00" y="598.40" width="4.8" height="4.8" fill="#b00c34"/>
<rect x="121.30" y="599.20" width="4.8" height="4.8" fill="#b00c34"/>
<rect x="117.90" y="604.40" width="4.8" height="4.8" fill="#b00c34"/>
<rect x="111.00" y="609.10" width="4.8" height="4.8" fill="#b00c34"/>
<rect x="111.00" y="616.00" width="4.8" height="4.8" fill="#b00c34"/>
<rect x="117.90" y="619.10" width="4.8" height="4.8" fill="#b00c34"/>
<rect x="114.40" y="630.40" width="4.8" height="4.8" fill="#b00c34"/>
<line x1="91.30" y1="621.50" x2="91.30" y2="628.50" stroke="#111" stroke-width="1.2"/>
<line x1="87.40" y1="621.50" x2="95.20" y2="621.50" stroke="#111" stroke-width="1.2"/>
<line x1="87.40" y1="628.50" x2="95.20" y2="628.50" stroke="#111" stroke-width="1.2"/>
<line x1="82.20" y1="625.30" x2="99.50" y2="625.30" stroke="#111" stroke-width="1.4"/>
<line x1="117.10" y1="596.40" x2="117.10" y2="607.70" stroke="#111" stroke-width="1.2"/>
<line x1="113.00" y1="596.40" x2="121.20" y2="596.40" stroke="#111" stroke-width="1.2"/>
<line x1="113.00" y1="607.70" x2="121.20" y2="607.70" stroke="#111" stroke-width="1.2"/>
<line x1="108.20" y1="602.00" x2="125.50" y2="602.00" stroke="#111" stroke-width="1.4"/>
<line x1="65.50" y1="546.75" x2="117.50" y2="546.75" stroke="#1e1e1e" stroke-width="1.15"/>
<circle cx="87.70" cy="542.15" r="1.3" fill="#1e1e1e"/>
<circle cx="91.50" cy="542.15" r="1.3" fill="#1e1e1e"/>
<circle cx="95.30" cy="542.15" r="1.3" fill="#1e1e1e"/>
<line x1="64.25" y1="563.75" x2="90.00" y2="563.75" stroke="#1e1e1e" stroke-width="1.15"/>
<circle cx="75.22" cy="559.15" r="1.3" fill="#1e1e1e"/>
<circle cx="79.03" cy="559.15" r="1.3" fill="#1e1e1e"/>
<text x="215.00" y="519.80" font-size="10.7" text-anchor="middle" textLength="40.5" lengthAdjust="spacingAndGlyphs">COL16A1</text>
<line x1="180.60" y1="535.10" x2="180.60" y2="658.80" stroke="#151515" stroke-width="1.4"/>
<line x1="177.00" y1="658.80" x2="257.60" y2="658.80" stroke="#151515" stroke-width="1.6"/>
<text x="174.10" y="661.85" font-size="9.3" text-anchor="end" textLength="11.25" lengthAdjust="spacingAndGlyphs">0.0</text>
<line x1="177.00" y1="628.72" x2="180.60" y2="628.72" stroke="#222" stroke-width="1.1"/>
<text x="174.10" y="631.77" font-size="9.3" text-anchor="end" textLength="11.25" lengthAdjust="spacingAndGlyphs">0.5</text>
<line x1="177.00" y1="598.65" x2="180.60" y2="598.65" stroke="#222" stroke-width="1.1"/>
<text x="174.10" y="601.70" font-size="9.3" text-anchor="end" textLength="11.25" lengthAdjust="spacingAndGlyphs">1.0</text>
<line x1="177.00" y1="568.58" x2="180.60" y2="568.58" stroke="#222" stroke-width="1.1"/>
<text x="174.10" y="571.62" font-size="9.3" text-anchor="end" textLength="11.25" lengthAdjust="spacingAndGlyphs">1.5</text>
<line x1="177.00" y1="538.50" x2="180.60" y2="538.50" stroke="#222" stroke-width="1.1"/>
<text x="174.10" y="541.55" font-size="9.3" text-anchor="end" textLength="11.25" lengthAdjust="spacingAndGlyphs">2.0</text>
<line x1="193.40" y1="658.80" x2="193.40" y2="662.10" stroke="#222" stroke-width="1.1"/>
<line x1="219.00" y1="658.80" x2="219.00" y2="662.10" stroke="#222" stroke-width="1.1"/>
<line x1="244.70" y1="658.80" x2="244.70" y2="662.10" stroke="#222" stroke-width="1.1"/>
<text x="0" y="0" font-size="11" text-anchor="middle" textLength="55" lengthAdjust="spacingAndGlyphs" transform="translate(156.30,597.05) rotate(-90)">Fold change</text>
<text x="0" y="0" font-size="9.4" text-anchor="end" textLength="26.9" lengthAdjust="spacingAndGlyphs" transform="translate(196.64,670.34) rotate(-45)">Control</text>
<text x="0" y="0" font-size="9.4" text-anchor="end" textLength="74.8" lengthAdjust="spacingAndGlyphs" transform="translate(222.40,668.80) rotate(-45)">Healthy MSC (+)AZA</text>
<text x="0" y="0" font-size="9.4" text-anchor="end" textLength="65.9" lengthAdjust="spacingAndGlyphs" transform="translate(248.30,668.85) rotate(-45)">MDS MSC (+) AZA</text>
<line x1="182.60" y1="598.65" x2="255.60" y2="598.65" stroke="#222" stroke-width="1.3" stroke-dasharray="1.1 1.3"/>
<polygon points="186.90,596.25 199.60,596.25 201.80,601.35 185.00,601.35" fill="#63b33c"/>
<line x1="185.50" y1="598.65" x2="200.90" y2="598.65" stroke="#111" stroke-width="1.7"/>
<circle cx="222.60" cy="582.90" r="2.35" fill="#1d3f82"/>
<circle cx="215.70" cy="585.50" r="2.35" fill="#1d3f82"/>
<circle cx="215.70" cy="597.30" r="2.35" fill="#1d3f82"/>
<circle cx="226.40" cy="600.40" r="2.35" fill="#1d3f82"/>
<circle cx="222.90" cy="606.80" r="2.35" fill="#1d3f82"/>
<circle cx="215.70" cy="609.40" r="2.35" fill="#1d3f82"/>
<circle cx="215.70" cy="625.50" r="2.35" fill="#1d3f82"/>
<circle cx="222.90" cy="629.70" r="2.35" fill="#1d3f82"/>
<circle cx="219.10" cy="638.80" r="2.35" fill="#1d3f82"/>
<rect x="247.60" y="556.85" width="4.8" height="4.8" fill="#b00c34"/>
<rect x="237.60" y="560.85" width="4.8" height="4.8" fill="#b00c34"/>
<rect x="242.60" y="562.60" width="4.8" height="4.8" fill="#b00c34"/>
<rect x="242.80" y="576.20" width="4.8" height="4.8" fill="#b00c34"/>
<rect x="242.70" y="589.70" width="4.8" height="4.8" fill="#b00c34"/>
<rect x="242.70" y="599.20" width="4.8" height="4.8" fill="#b00c34"/>
<line x1="219.50" y1="602.00" x2="219.50" y2="615.00" stroke="#111" stroke-width="1.2"/>
<line x1="215.20" y1="602.00" x2="223.80" y2="602.00" stroke="#111" stroke-width="1.2"/>
<line x1="215.20" y1="615.00" x2="223.80" y2="615.00" stroke="#111" stroke-width="1.2"/>
<line x1="210.80" y1="608.20" x2="227.80" y2="608.20" stroke="#111" stroke-width="1.4"/>
<line x1="245.38" y1="569.50" x2="245.38" y2="583.10" stroke="#111" stroke-width="1.2"/>
<line x1="240.75" y1="569.50" x2="250.00" y2="569.50" stroke="#111" stroke-width="1.2"/>
<line x1="240.75" y1="583.10" x2="250.00" y2="583.10" stroke="#111" stroke-width="1.2"/>
<line x1="237.00" y1="576.25" x2="253.75" y2="576.25" stroke="#111" stroke-width="1.4"/>
<line x1="193.25" y1="533.25" x2="245.75" y2="533.25" stroke="#1e1e1e" stroke-width="1.15"/>
<circle cx="215.70" cy="528.65" r="1.3" fill="#1e1e1e"/>
<circle cx="219.50" cy="528.65" r="1.3" fill="#1e1e1e"/>
<circle cx="223.30" cy="528.65" r="1.3" fill="#1e1e1e"/>
<line x1="219.50" y1="552.00" x2="245.00" y2="552.00" stroke="#1e1e1e" stroke-width="1.15"/>
<circle cx="226.55" cy="547.40" r="1.3" fill="#1e1e1e"/>
<circle cx="230.35" cy="547.40" r="1.3" fill="#1e1e1e"/>
<circle cx="234.15" cy="547.40" r="1.3" fill="#1e1e1e"/>
<circle cx="237.95" cy="547.40" r="1.3" fill="#1e1e1e"/>
<text x="343.44" y="519.80" font-size="10.7" text-anchor="middle" textLength="34.95" lengthAdjust="spacingAndGlyphs">COL1A1</text>
<line x1="308.90" y1="535.10" x2="308.90" y2="658.80" stroke="#151515" stroke-width="1.4"/>
<line x1="305.30" y1="658.80" x2="385.90" y2="658.80" stroke="#151515" stroke-width="1.6"/>
<text x="302.40" y="661.85" font-size="9.3" text-anchor="end">0</text>
<line x1="305.30" y1="618.70" x2="308.90" y2="618.70" stroke="#222" stroke-width="1.1"/>
<text x="302.40" y="621.75" font-size="9.3" text-anchor="end">1</text>
<line x1="305.30" y1="578.60" x2="308.90" y2="578.60" stroke="#222" stroke-width="1.1"/>
<text x="302.40" y="581.65" font-size="9.3" text-anchor="end">2</text>
<line x1="305.30" y1="538.50" x2="308.90" y2="538.50" stroke="#222" stroke-width="1.1"/>
<text x="302.40" y="541.55" font-size="9.3" text-anchor="end">3</text>
<line x1="321.70" y1="658.80" x2="321.70" y2="662.10" stroke="#222" stroke-width="1.1"/>
<line x1="347.30" y1="658.80" x2="347.30" y2="662.10" stroke="#222" stroke-width="1.1"/>
<line x1="373.00" y1="658.80" x2="373.00" y2="662.10" stroke="#222" stroke-width="1.1"/>
<text x="0" y="0" font-size="11" text-anchor="middle" textLength="55" lengthAdjust="spacingAndGlyphs" transform="translate(292.10,597.05) rotate(-90)">Fold change</text>
<text x="0" y="0" font-size="9.4" text-anchor="end" textLength="26.9" lengthAdjust="spacingAndGlyphs" transform="translate(324.94,670.34) rotate(-45)">Control</text>
<text x="0" y="0" font-size="9.4" text-anchor="end" textLength="74.8" lengthAdjust="spacingAndGlyphs" transform="translate(350.70,668.80) rotate(-45)">Healthy MSC (+)AZA</text>
<text x="0" y="0" font-size="9.4" text-anchor="end" textLength="65.9" lengthAdjust="spacingAndGlyphs" transform="translate(376.60,668.85) rotate(-45)">MDS MSC (+) AZA</text>
<line x1="310.90" y1="618.70" x2="383.90" y2="618.70" stroke="#222" stroke-width="1.3" stroke-dasharray="1.1 1.3"/>
<polygon points="315.20,616.30 327.90,616.30 330.10,621.40 313.30,621.40" fill="#63b33c"/>
<line x1="313.80" y1="618.70" x2="329.20" y2="618.70" stroke="#111" stroke-width="1.7"/>
<circle cx="343.75" cy="569.25" r="2.35" fill="#1d3f82"/>
<circle cx="350.75" cy="572.00" r="2.35" fill="#1d3f82"/>
<circle cx="347.20" cy="601.10" r="2.35" fill="#1d3f82"/>
<circle cx="347.20" cy="610.80" r="2.35" fill="#1d3f82"/>
<circle cx="351.10" cy="628.50" r="2.35" fill="#1d3f82"/>
<circle cx="344.10" cy="631.10" r="2.35" fill="#1d3f82"/>
<circle cx="347.20" cy="640.20" r="2.35" fill="#1d3f82"/>
<circle cx="344.10" cy="648.40" r="2.35" fill="#1d3f82"/>
<circle cx="351.10" cy="648.00" r="2.35" fill="#1d3f82"/>
<rect x="374.35" y="550.10" width="4.8" height="4.8" fill="#b00c34"/>
<rect x="367.10" y="555.85" width="4.8" height="4.8" fill="#b00c34"/>
<rect x="371.20" y="588.30" width="4.8" height="4.8" fill="#b00c34"/>
<rect x="374.60" y="598.40" width="4.8" height="4.8" fill="#b00c34"/>
<rect x="367.30" y="604.40" width="4.8" height="4.8" fill="#b00c34"/>
<rect x="371.20" y="615.70" width="4.8" height="4.8" fill="#b00c34"/>
<rect x="371.20" y="655.80" width="4.8" height="4.8" fill="#b00c34"/>
<line x1="347.45" y1="606.50" x2="347.45" y2="626.40" stroke="#111" stroke-width="1.2"/>
<line x1="343.30" y1="606.50" x2="351.60" y2="606.50" stroke="#111" stroke-width="1.2"/>
<line x1="343.30" y1="626.40" x2="351.60" y2="626.40" stroke="#111" stroke-width="1.2"/>
<line x1="339.50" y1="616.30" x2="355.70" y2="616.30" stroke="#111" stroke-width="1.4"/>
<line x1="373.35" y1="584.00" x2="373.35" y2="611.50" stroke="#111" stroke-width="1.2"/>
<line x1="369.20" y1="584.00" x2="377.50" y2="584.00" stroke="#111" stroke-width="1.2"/>
<line x1="369.20" y1="611.50" x2="377.50" y2="611.50" stroke="#111" stroke-width="1.2"/>
<line x1="364.90" y1="597.70" x2="381.70" y2="597.70" stroke="#111" stroke-width="1.4"/>
</svg>
</body></html>
